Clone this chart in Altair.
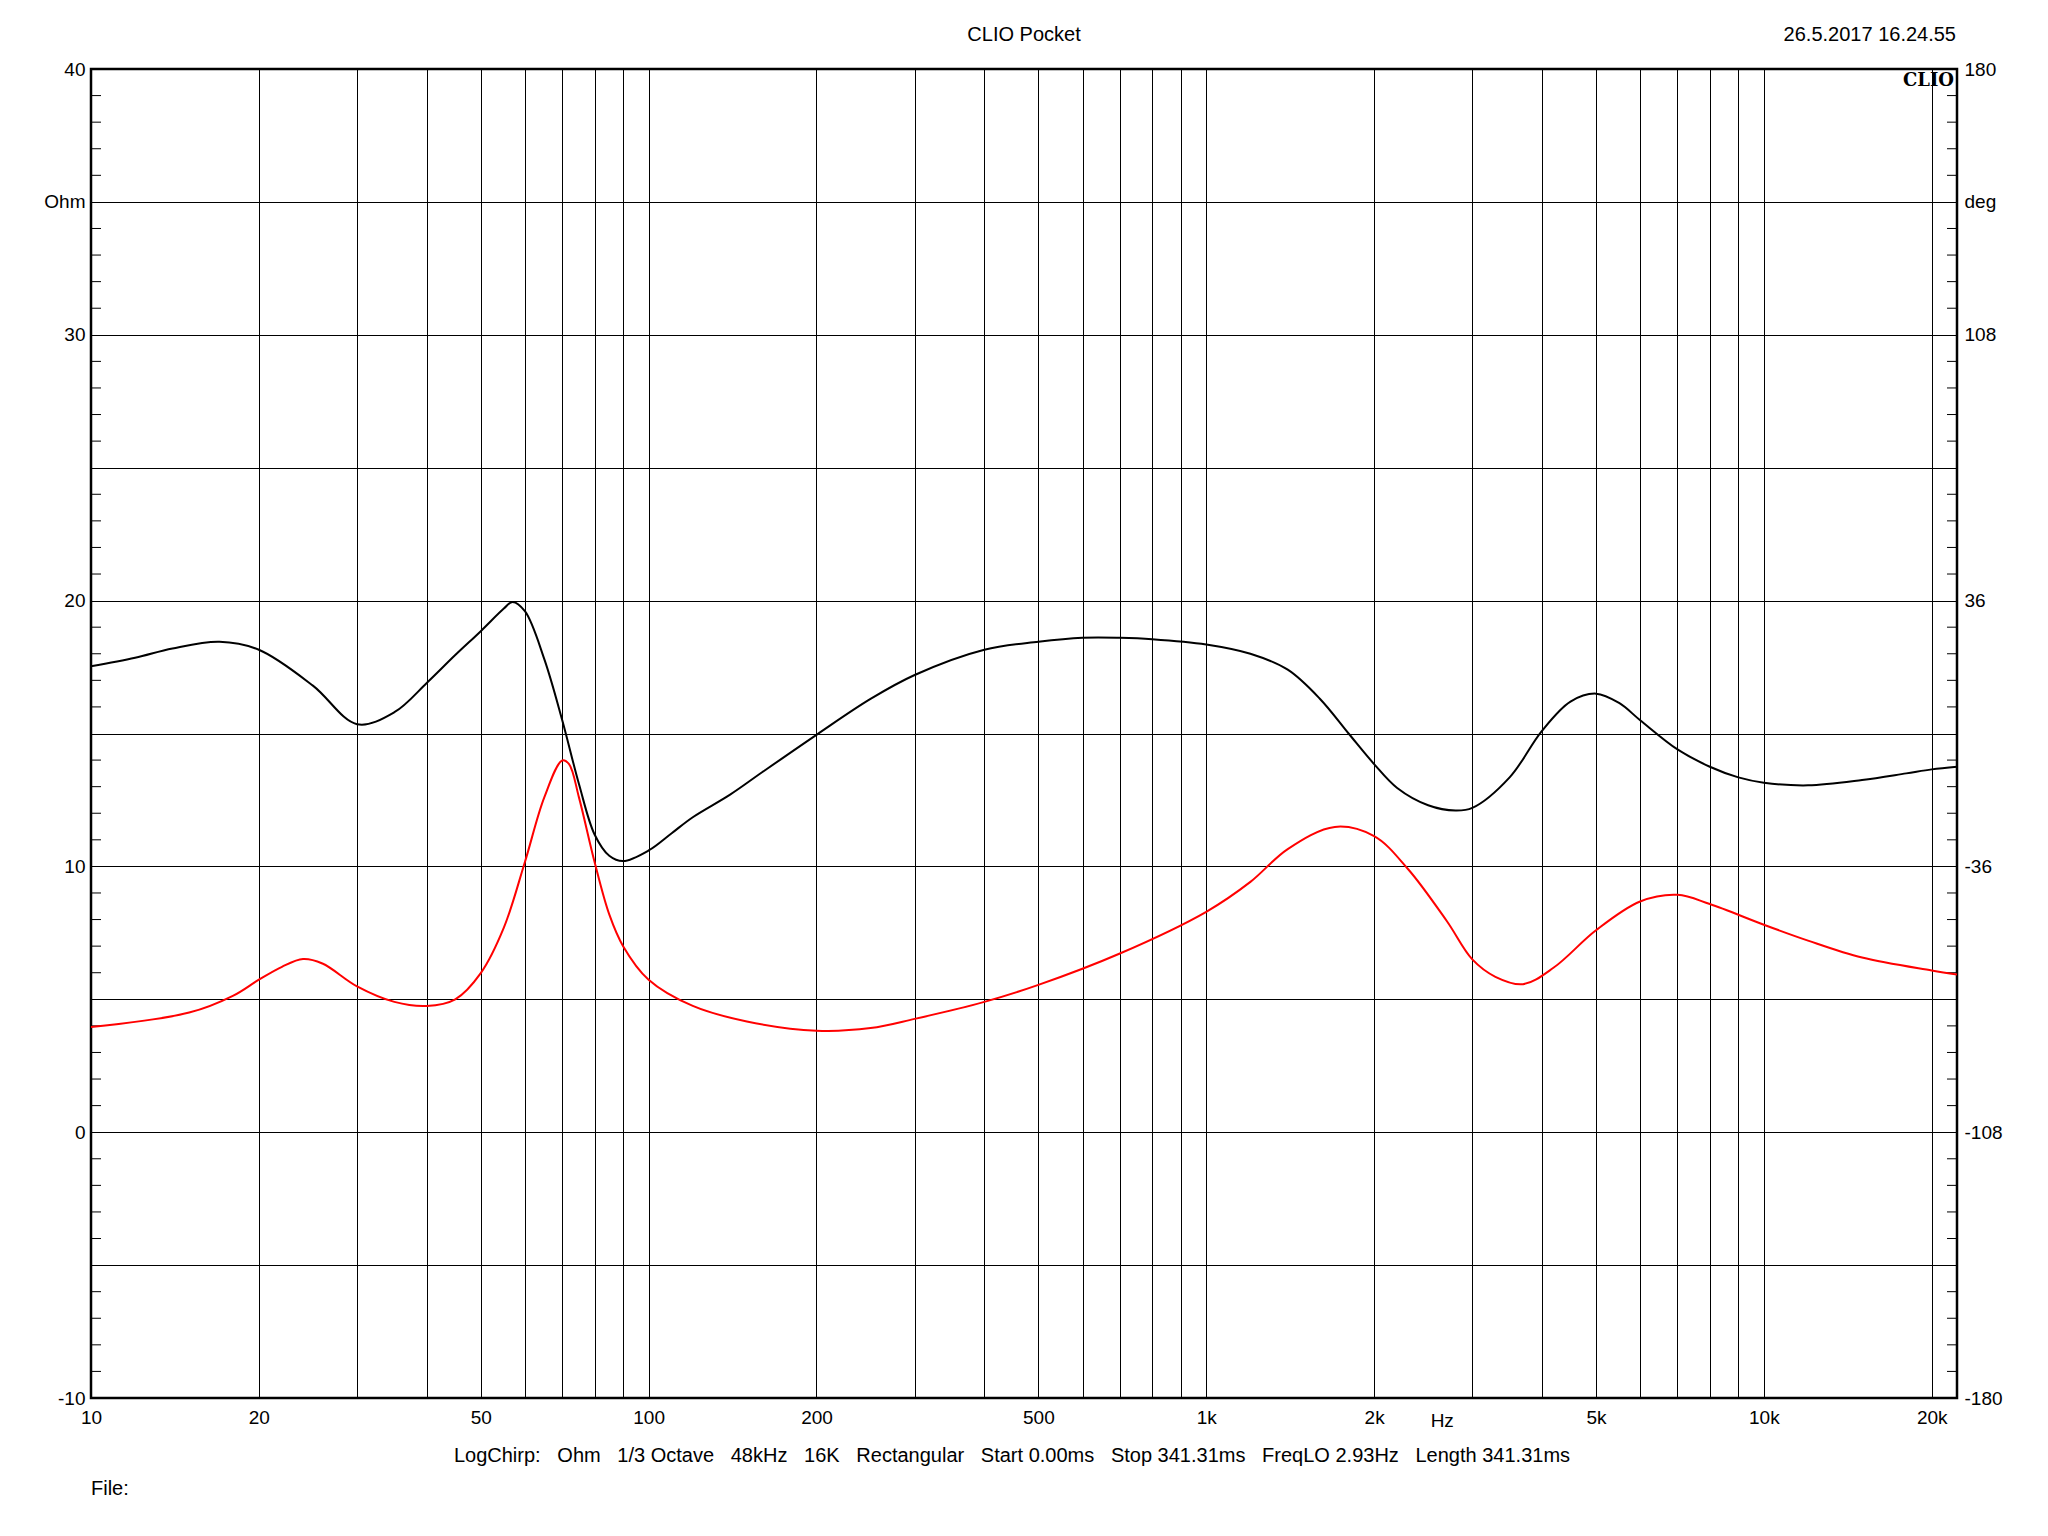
import altair as alt
import pandas as pd

# ---------------- data ----------------
freq_mag = [10, 12, 14, 17, 20, 25, 30, 35, 40, 45, 50, 55, 57, 60, 65, 70, 75, 80, 85, 90,
            100, 110, 120, 140, 160, 200, 250, 300, 400, 500, 600, 700, 800, 1000, 1200,
            1400, 1600, 1800, 2000, 2200, 2500, 2800, 3000, 3500, 4000, 4500, 5000, 5500,
            6000, 7000, 8000, 9000, 10000, 12000, 15000, 18000, 20000, 22200]
mag_ohm = [17.53, 17.85, 18.2, 18.45, 18.15, 16.8, 15.35, 15.8, 16.9, 17.95, 18.85, 19.7, 19.95,
           19.6, 17.8, 15.5, 13.1, 11.2, 10.4, 10.2, 10.6, 11.25, 11.85, 12.7, 13.55, 14.95,
           16.3, 17.2, 18.15, 18.45, 18.6, 18.6, 18.55, 18.35, 18.0, 17.4, 16.3, 15.0, 13.85,
           12.95, 12.3, 12.1, 12.2, 13.35, 15.1, 16.2, 16.5, 16.15, 15.5, 14.4, 13.75, 13.35,
           13.15, 13.05, 13.25, 13.5, 13.65, 13.75]

freq_ph = [10, 15, 18, 20, 22, 24, 26, 30, 35, 40, 45, 50, 55, 60, 65, 70, 72, 75, 80, 85, 90,
           100, 120, 150, 200, 250, 300, 400, 500, 700, 1000, 1200, 1400, 1700, 2000, 2300,
           2700, 3000, 3300, 3700, 4200, 5000, 6000, 7000, 8000, 10000, 12000, 15000, 20000,
           22200]
phase_deg = [-79.5, -75.6, -71.0, -66.7, -63.2, -61.1, -62.3, -68.5, -72.7, -73.8, -72.0,
             -64.9, -52.6, -34.8, -17.3, -7.3, -8.3, -17.3, -34.8, -49.0, -57.6, -66.7, -73.8,
             -78.0, -80.5, -79.8, -77.3, -72.7, -68.1, -59.6, -48.3, -40.2, -31.3, -25.3,
             -27.8, -36.7, -50.8, -61.2, -65.9, -67.9, -63.4, -53.3, -45.5, -43.7, -46.2,
             -51.8, -56.1, -60.7, -64.2, -65.3]

x_grid = [10, 20, 30, 40, 50, 60, 70, 80, 90, 100, 200, 300, 400, 500, 600, 700, 800, 900,
          1000, 2000, 3000, 4000, 5000, 6000, 7000, 8000, 9000, 10000, 20000]
x_labeled = [10, 20, 50, 100, 200, 500, 1000, 2000, 5000, 10000, 20000]
y_grid = [-10, -5, 0, 5, 10, 15, 20, 25, 30, 35, 40]
y_minor = [v for v in range(-9, 40) if v % 5 != 0]
deg_ticks = [-180, -144, -108, -72, -36, 0, 36, 72, 108, 144, 180]
deg_labeled = [180, 108, 36, -36, -108, -180]

title_text = "CLIO Pocket"
date_text = "26.5.2017 16.24.55"
NB = "\u00a0\u00a0\u00a0"
footer_text = NB.join(["LogChirp:", "Ohm", "1/3 Octave", "48kHz", "16K", "Rectangular",
                       "Start 0.00ms", "Stop 341.31ms", "FreqLO 2.93Hz", "Length 341.31ms"])

W, H = 1866, 1329
FONT = "Liberation Sans"
FS = 19
TFS = 20

mag_df = pd.DataFrame({"f": freq_mag, "ohm": mag_ohm})
ph_df = pd.DataFrame({"f": freq_ph, "deg": phase_deg})
minor_df = pd.DataFrame({"v": y_minor})

xscale = alt.Scale(type="log", domain=[10, 22200], nice=False)
yscale = alt.Scale(domain=[-10, 40], nice=False, zero=False)
dscale = alt.Scale(domain=[-180, 180], nice=False, zero=False)

xlab = "[" + ",".join(str(v) for v in x_labeled) + "]"
xaxis = alt.Axis(values=x_grid, grid=True, gridColor="black", gridWidth=1, gridOpacity=1,
                 ticks=False, domain=False, title=None, labelFont=FONT, labelFontSize=FS,
                 labelColor="black", labelPadding=10, labelFlush=False, labelOverlap=False,
                 labelExpr="indexof(" + xlab + ", datum.value) < 0 ? '' : "
                           "(datum.value >= 1000 ? (datum.value/1000) + 'k' : '' + datum.value)")
yaxis = alt.Axis(values=y_grid, grid=True, gridColor="black", gridWidth=1, gridOpacity=1,
                 ticks=False, domain=False, title=None, labelFont=FONT, labelFontSize=FS,
                 labelColor="black", labelPadding=6, labelFlush=False, labelOverlap=False,
                 labelExpr="datum.value == 35 ? 'Ohm' : (datum.value % 10 == 0 ? '' + datum.value : '')")
dlab = "[" + ",".join(str(v) for v in deg_labeled) + "]"
daxis = alt.Axis(values=deg_ticks, orient="right", grid=False, ticks=False, domain=False,
                 title=None, labelFont=FONT, labelFontSize=FS, labelColor="black",
                 labelPadding=7, labelFlush=False, labelOverlap=False,
                 labelExpr="datum.value == 144 ? 'deg' : (indexof(" + dlab +
                           ", datum.value) >= 0 ? '' + datum.value : '')")

black = alt.Chart(mag_df).mark_line(color="black", strokeWidth=2, interpolate="catmull-rom").encode(
    x=alt.X("f:Q", scale=xscale, axis=xaxis),
    y=alt.Y("ohm:Q", scale=yscale, axis=yaxis),
)

tick_left = alt.Chart(minor_df).mark_rule(color="black", strokeWidth=1).encode(
    y=alt.Y("v:Q", scale=yscale, axis=yaxis), x=alt.value(0), x2=alt.value(10))
tick_right = alt.Chart(minor_df).mark_rule(color="black", strokeWidth=1).encode(
    y=alt.Y("v:Q", scale=yscale, axis=yaxis), x=alt.value(W - 10), x2=alt.value(W))

hz = alt.Chart(pd.DataFrame({"f": [2650], "t": ["Hz"]})).mark_text(
    font=FONT, fontSize=FS, color="black", baseline="middle", align="center").encode(
    x=alt.X("f:Q", scale=xscale, axis=xaxis), y=alt.value(H + 23), text="t:N")

def label(txt, x, y, align="center", font=FONT, size=TFS, weight="normal"):
    return alt.Chart(pd.DataFrame({"t": [txt]})).mark_text(
        font=font, fontSize=size, fontWeight=weight, color="black",
        align=align, baseline="middle").encode(
        x=alt.value(x), y=alt.value(y), text="t:N")

texts = [
    label(title_text, W / 2, -34),
    label(date_text, W - 1, -34, align="right"),
    label("CLIO", W - 3, 12, align="right", font="DejaVu Serif", size=18, weight="bold"),
    label(footer_text, 921, H + 58),
    label("File:", 0, H + 91, align="left"),
]

left_group = alt.layer(black, tick_left, tick_right, hz, *texts)

red = alt.Chart(ph_df).mark_line(color="#ff0000", strokeWidth=2, interpolate="catmull-rom").encode(
    x=alt.X("f:Q", scale=xscale, axis=xaxis),
    y=alt.Y("deg:Q", scale=dscale, axis=daxis),
)

chart = alt.layer(left_group, red).resolve_scale(y="independent").properties(
    width=W, height=H,
    padding={"left": 83, "top": 61, "right": 83, "bottom": 130},
    autosize=alt.AutoSizeParams(type="none"),
    background="white",
).configure_view(stroke="black", strokeWidth=2.5)

chart.save("out.html", embed_options={"renderer": "svg", "actions": False})
